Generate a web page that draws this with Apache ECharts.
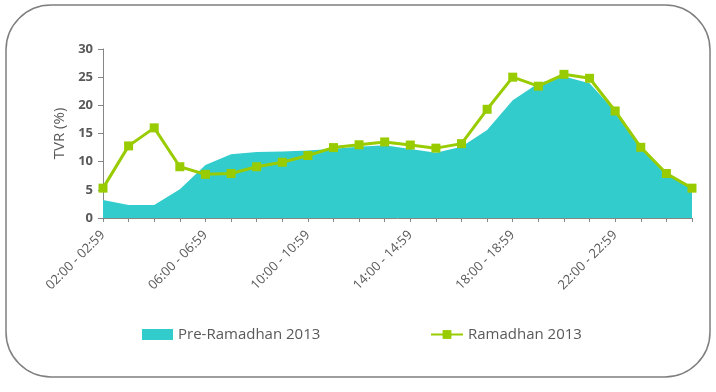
<!DOCTYPE html>
<html><head><meta charset="utf-8">
<script src="https://cdn.jsdelivr.net/npm/echarts@6/dist/echarts.min.js"></script>
<style>html,body{margin:0;padding:0;background:#fff}#c{width:716px;height:392px}</style>
</head><body><div id="c"></div>
<script>
var categories = ["02:00 - 02:59","03:00 - 03:59","04:00 - 04:59","05:00 - 05:59","06:00 - 06:59","07:00 - 07:59","08:00 - 08:59","09:00 - 09:59","10:00 - 10:59","11:00 - 11:59","12:00 - 12:59","13:00 - 13:59","14:00 - 14:59","15:00 - 15:59","16:00 - 16:59","17:00 - 17:59","18:00 - 18:59","19:00 - 19:59","20:00 - 20:59","21:00 - 21:59","22:00 - 22:59","23:00 - 23:59","00:00 - 00:59","01:00 - 01:59"];
var preRamadhan = [3.2,2.3,2.3,5.1,9.4,11.3,11.7,11.8,12.0,12.3,12.65,12.9,12.25,11.6,12.65,15.6,20.9,23.9,25.1,23.9,18.9,12.4,8.2,5.3];
var ramadhan = [5.3,12.8,16.0,9.1,7.75,7.9,9.1,9.9,11.1,12.5,13.0,13.5,12.95,12.4,13.2,19.3,25.0,23.4,25.5,24.8,19.0,12.55,7.9,5.3];
var yTicks = {min:0, max:30, interval:5};
var font = "'Open Sans', sans-serif";
var chart = echarts.init(document.getElementById('c'));
chart.setOption({
  animation:false,
  graphic:[{type:'rect',shape:{x:6,y:5,width:704,height:372,r:45},style:{fill:'none',stroke:'#7f7f7f',lineWidth:1.5},silent:true}],
  grid:{left:103,right:24,top:49,bottom:174,containLabel:false},
  legend:[
    {data:[{name:'Pre-Ramadhan 2013',icon:'rect'}],left:137,top:322,itemWidth:31,itemHeight:11,itemGap:4,
     textStyle:{fontFamily:font,fontSize:15,color:'#595959'}},
    {data:['Ramadhan 2013'],left:425,top:322,itemWidth:32,itemHeight:11,
     textStyle:{fontFamily:font,fontSize:15,color:'#595959'}}
  ],
  xAxis:{type:'category',data:categories,boundaryGap:false,
    axisLine:{lineStyle:{color:'#868686'}},
    axisTick:{show:true,interval:0,length:4,lineStyle:{color:'#868686'}},
    axisLabel:{interval:3,rotate:45,fontFamily:font,fontSize:13,color:'#595959',margin:15}},
  yAxis:{type:'value',min:yTicks.min,max:yTicks.max,interval:yTicks.interval,
    name:'TVR (%)',nameLocation:'middle',nameGap:34,nameRotate:90,
    nameTextStyle:{fontFamily:font,fontSize:15,color:'#595959'},
    axisLine:{show:true,lineStyle:{color:'#868686'}},
    axisTick:{show:true,length:5,lineStyle:{color:'#868686'}},
    splitLine:{show:false},
    axisLabel:{fontFamily:font,fontSize:13,fontWeight:'bold',color:'#595959',margin:10}},
  series:[
    {name:'Pre-Ramadhan 2013',type:'line',data:preRamadhan,showSymbol:false,symbol:'none',
     lineStyle:{width:0,color:'#33CCCC'},itemStyle:{color:'#33CCCC'},areaStyle:{color:'#33CCCC',opacity:1}},
    {name:'Ramadhan 2013',type:'line',data:ramadhan,symbol:'rect',symbolSize:9,
     lineStyle:{width:3,color:'#99CC00'},itemStyle:{color:'#99CC00'}}
  ]
});
</script></body></html>
